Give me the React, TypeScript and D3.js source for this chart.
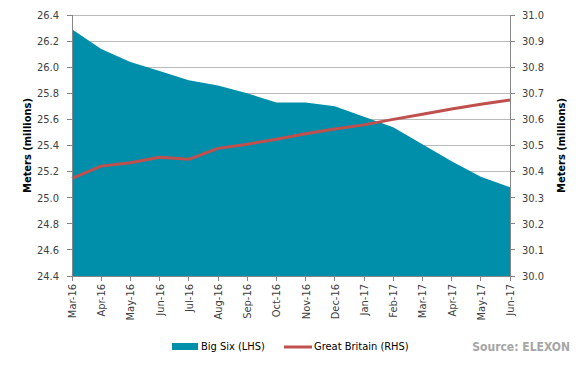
import React from 'react';
import * as d3 from 'd3';

const months = ['Mar-16', 'Apr-16', 'May-16', 'Jun-16', 'Jul-16', 'Aug-16', 'Sep-16', 'Oct-16', 'Nov-16', 'Dec-16', 'Jan-17', 'Feb-17', 'Mar-17', 'Apr-17', 'May-17', 'Jun-17'];
const bigSix = [26.29, 26.14, 26.04, 25.97, 25.9, 25.86, 25.8, 25.73, 25.73, 25.7, 25.62, 25.54, 25.41, 25.28, 25.16, 25.08];
const greatBritain = [30.374, 30.421, 30.434, 30.455, 30.447, 30.489, 30.505, 30.524, 30.545, 30.563, 30.579, 30.6, 30.62, 30.64, 30.658, 30.674];
const leftTicks = [24.4, 24.6, 24.8, 25.0, 25.2, 25.4, 25.6, 25.8, 26.0, 26.2, 26.4];
const rightTicks = [30.0, 30.1, 30.2, 30.3, 30.4, 30.5, 30.6, 30.7, 30.8, 30.9, 31.0];

const W = 583;
const H = 367;
const m = { left: 72, right: 510, top: 15, bottom: 276 };
const font = "'DejaVu Sans Condensed', 'DejaVu Sans', sans-serif";

const App: React.FC = () => {
  const x = d3.scalePoint<string>().domain(months).range([m.left, m.right]);
  const yL = d3.scaleLinear().domain([24.4, 26.4]).range([m.bottom, m.top]);
  const yR = d3.scaleLinear().domain([30.0, 31.0]).range([m.bottom, m.top]);

  const area = d3.area<number>()
    .x((_, i) => x(months[i]) as number)
    .y0(yL(24.4))
    .y1(d => yL(d));
  const line = d3.line<number>()
    .x((_, i) => x(months[i]) as number)
    .y(d => yR(d));

  return (
    <svg width={W} height={H} style={{ position: 'absolute', left: 0, top: 0, background: '#fff' }} fontFamily={font}>
      {/* gridlines */}
      {leftTicks.map(t => (
        <line key={'g' + t} x1={m.left} x2={m.right} y1={yL(t)} y2={yL(t)} stroke="#b9b9b9" strokeWidth={1} shapeRendering="crispEdges" />
      ))}
      <path d={area(bigSix) || ''} fill="#008FAA" />
      <path d={line(greatBritain) || ''} fill="none" stroke="#C0504D" strokeWidth={3} strokeLinejoin="round" />

      {/* left axis */}
      <line x1={m.left} x2={m.left} y1={m.top} y2={m.bottom} stroke="#868686" shapeRendering="crispEdges" />
      {leftTicks.map(t => (
        <g key={'l' + t}>
          <line x1={m.left - 5} x2={m.left} y1={yL(t)} y2={yL(t)} stroke="#868686" shapeRendering="crispEdges" />
          <text x={m.left - 13} y={yL(t)} dy="0.35em" textAnchor="end" fontSize={11} fill="#404040">{t.toFixed(1)}</text>
        </g>
      ))}
      {/* right axis */}
      <line x1={m.right} x2={m.right} y1={m.top} y2={m.bottom} stroke="#868686" shapeRendering="crispEdges" />
      {rightTicks.map(t => (
        <g key={'r' + t}>
          <line x1={m.right} x2={m.right + 5} y1={yR(t)} y2={yR(t)} stroke="#868686" shapeRendering="crispEdges" />
          <text x={m.right + 12} y={yR(t)} dy="0.35em" textAnchor="start" fontSize={11} fill="#404040">{t.toFixed(1)}</text>
        </g>
      ))}
      {/* bottom axis */}
      <line x1={m.left} x2={m.right} y1={m.bottom} y2={m.bottom} stroke="#868686" shapeRendering="crispEdges" />
      {months.map(mo => (
        <g key={mo}>
          <line x1={x(mo)} x2={x(mo)} y1={m.bottom} y2={m.bottom + 5} stroke="#868686" shapeRendering="crispEdges" />
          <text transform={`translate(${(x(mo) as number) + 4},${m.bottom + 8}) rotate(-90)`} textAnchor="end" fontSize={11} fill="#404040">{mo}</text>
        </g>
      ))}

      {/* axis titles */}
      <text transform={`translate(31,${(m.top + m.bottom) / 2}) rotate(-90)`} textAnchor="middle" fontSize={11} fontWeight="bold" fill="#000">Meters (millions)</text>
      <text transform={`translate(565,${(m.top + m.bottom) / 2}) rotate(-90)`} textAnchor="middle" fontSize={11} fontWeight="bold" fill="#000">Meters (millions)</text>

      {/* legend */}
      <rect x={172} y={343} width={26} height={7} fill="#008FAA" />
      <text x={201} y={350} fontSize={11} fill="#000">Big Six (LHS)</text>
      <line x1={284} x2={312} y1={347} y2={347} stroke="#C0504D" strokeWidth={3} />
      <text x={314} y={350} fontSize={11} fill="#000">Great Britain (RHS)</text>
      <text x={570} y={351} textAnchor="end" fontSize={12} fontWeight="bold" fill="#a6a6a6">Source: ELEXON</text>
    </svg>
  );
};

export default App;
